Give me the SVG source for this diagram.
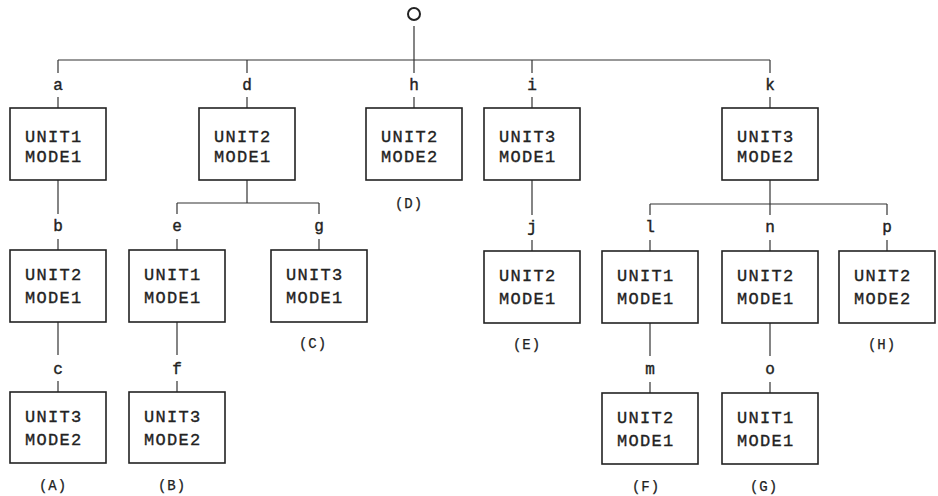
<svg xmlns="http://www.w3.org/2000/svg" width="938" height="496" viewBox="0 0 938 496">
<style>
.bg{fill:#fff}
.c line,.c path{stroke:#333;stroke-width:1.2;fill:none}
.box{fill:#fff;stroke:#222;stroke-width:1.6}
.t{font-family:"Liberation Mono",monospace;font-size:17px;fill:#222;letter-spacing:1.3px;stroke:#222;stroke-width:0.35}
.l{font-family:"Liberation Mono",monospace;font-size:16px;fill:#222;text-anchor:middle;stroke:#222;stroke-width:0.4}
.p{font-family:"Liberation Mono",monospace;font-size:14px;fill:#222;text-anchor:middle;letter-spacing:1px;stroke:#222;stroke-width:0.25}
</style>
<rect class="bg" x="0" y="0" width="938" height="496"/>
<g id="root">
<circle cx="414" cy="14" r="6" fill="none" stroke="#222" stroke-width="2"/>
</g>
<g class="c" id="connectors">
<line x1="414" y1="26" x2="414" y2="60"/>
<line x1="58" y1="60" x2="770" y2="60"/>
<line x1="58" y1="60" x2="58" y2="73"/><line x1="58" y1="97" x2="58" y2="108"/>
<line x1="247" y1="60" x2="247" y2="73"/><line x1="247" y1="97" x2="247" y2="108"/>
<line x1="414" y1="60" x2="414" y2="73"/><line x1="414" y1="97" x2="414" y2="108"/>
<line x1="532" y1="60" x2="532" y2="73"/><line x1="532" y1="97" x2="532" y2="108"/>
<line x1="770" y1="60" x2="770" y2="73"/><line x1="770" y1="97" x2="770" y2="108"/>
<line x1="58" y1="180" x2="58" y2="214"/><line x1="58" y1="239" x2="58" y2="250"/>
<line x1="247" y1="180" x2="247" y2="203"/>
<line x1="177" y1="203" x2="319" y2="203"/>
<line x1="177" y1="203" x2="177" y2="214"/><line x1="177" y1="239" x2="177" y2="250"/>
<line x1="319" y1="203" x2="319" y2="214"/><line x1="319" y1="239" x2="319" y2="250"/>
<line x1="532" y1="180" x2="532" y2="215"/><line x1="532" y1="240" x2="532" y2="251"/>
<line x1="770" y1="180" x2="770" y2="204"/>
<line x1="650" y1="204" x2="887" y2="204"/>
<line x1="650" y1="204" x2="650" y2="215"/><line x1="650" y1="240" x2="650" y2="251"/>
<line x1="770" y1="204" x2="770" y2="215"/><line x1="770" y1="240" x2="770" y2="251"/>
<line x1="887" y1="204" x2="887" y2="215"/><line x1="887" y1="240" x2="887" y2="251"/>
<line x1="58" y1="322" x2="58" y2="355"/><line x1="58" y1="381" x2="58" y2="392"/>
<line x1="177" y1="322" x2="177" y2="355"/><line x1="177" y1="381" x2="177" y2="392"/>
<line x1="650" y1="323" x2="650" y2="356"/><line x1="650" y1="382" x2="650" y2="393"/>
<line x1="770" y1="323" x2="770" y2="356"/><line x1="770" y1="382" x2="770" y2="393"/>
</g>
<g id="labels">
<text class="l" x="58" y="90">a</text>
<text class="l" x="247" y="90">d</text>
<text class="l" x="414" y="90">h</text>
<text class="l" x="532" y="90">i</text>
<text class="l" x="770" y="90">k</text>
<text class="l" x="58" y="231">b</text>
<text class="l" x="177" y="231">e</text>
<text class="l" x="319" y="231">g</text>
<text class="l" x="532" y="232">j</text>
<text class="l" x="650" y="232">l</text>
<text class="l" x="770" y="232">n</text>
<text class="l" x="887" y="232">p</text>
<text class="l" x="58" y="374">c</text>
<text class="l" x="177" y="374">f</text>
<text class="l" x="650" y="374">m</text>
<text class="l" x="770" y="374">o</text>
<text class="p" x="409" y="208">(D)</text>
<text class="p" x="313" y="348">(C)</text>
<text class="p" x="527" y="349">(E)</text>
<text class="p" x="882" y="349">(H)</text>
<text class="p" x="53" y="490">(A)</text>
<text class="p" x="172" y="490">(B)</text>
<text class="p" x="646" y="491">(F)</text>
<text class="p" x="764" y="491">(G)</text>
</g>
<g id="node-a"><rect class="box" x="10" y="108" width="96" height="72"/><text class="t" x="25" y="142">UNIT1</text><text class="t" x="25" y="162">MODE1</text></g>
<g id="node-d"><rect class="box" x="199" y="108" width="96" height="72"/><text class="t" x="214" y="142">UNIT2</text><text class="t" x="214" y="162">MODE1</text></g>
<g id="node-h"><rect class="box" x="366" y="108" width="96" height="72"/><text class="t" x="381" y="142">UNIT2</text><text class="t" x="381" y="162">MODE2</text></g>
<g id="node-i"><rect class="box" x="484" y="108" width="96" height="72"/><text class="t" x="499" y="142">UNIT3</text><text class="t" x="499" y="162">MODE1</text></g>
<g id="node-k"><rect class="box" x="722" y="108" width="96" height="72"/><text class="t" x="737" y="142">UNIT3</text><text class="t" x="737" y="162">MODE2</text></g>
<g id="node-b"><rect class="box" x="10" y="250" width="96" height="72"/><text class="t" x="25" y="280">UNIT2</text><text class="t" x="25" y="303">MODE1</text></g>
<g id="node-e"><rect class="box" x="129" y="250" width="96" height="72"/><text class="t" x="144" y="280">UNIT1</text><text class="t" x="144" y="303">MODE1</text></g>
<g id="node-g"><rect class="box" x="271" y="250" width="96" height="72"/><text class="t" x="286" y="280">UNIT3</text><text class="t" x="286" y="303">MODE1</text></g>
<g id="node-j"><rect class="box" x="484" y="251" width="96" height="72"/><text class="t" x="499" y="281">UNIT2</text><text class="t" x="499" y="304">MODE1</text></g>
<g id="node-l"><rect class="box" x="602" y="251" width="96" height="72"/><text class="t" x="617" y="281">UNIT1</text><text class="t" x="617" y="304">MODE1</text></g>
<g id="node-n"><rect class="box" x="722" y="251" width="96" height="72"/><text class="t" x="737" y="281">UNIT2</text><text class="t" x="737" y="304">MODE1</text></g>
<g id="node-p"><rect class="box" x="839" y="251" width="96" height="72"/><text class="t" x="854" y="281">UNIT2</text><text class="t" x="854" y="304">MODE2</text></g>
<g id="node-c"><rect class="box" x="10" y="392" width="96" height="71"/><text class="t" x="25" y="422">UNIT3</text><text class="t" x="25" y="445">MODE2</text></g>
<g id="node-f"><rect class="box" x="129" y="392" width="96" height="71"/><text class="t" x="144" y="422">UNIT3</text><text class="t" x="144" y="445">MODE2</text></g>
<g id="node-m"><rect class="box" x="602" y="393" width="96" height="71"/><text class="t" x="617" y="423">UNIT2</text><text class="t" x="617" y="446">MODE1</text></g>
<g id="node-o"><rect class="box" x="722" y="393" width="96" height="71"/><text class="t" x="737" y="423">UNIT1</text><text class="t" x="737" y="446">MODE1</text></g>
</svg>
